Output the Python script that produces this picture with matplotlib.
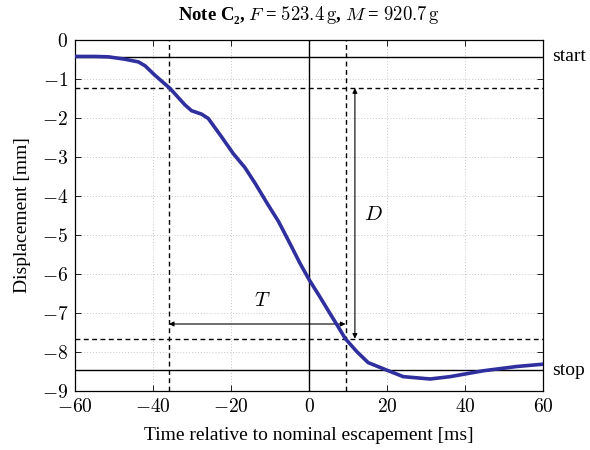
import numpy as np
import matplotlib
matplotlib.use("Agg")
import matplotlib.pyplot as plt
from matplotlib.ticker import FuncFormatter, MultipleLocator
from matplotlib.transforms import blended_transform_factory

plt.rcParams["font.family"] = ["Liberation Serif", "DejaVu Serif"]
plt.rcParams["mathtext.fontset"] = "cm"
plt.rcParams["font.size"] = 12

# displacement trace
t_ms = [-60, -55.0, -51.5, -47.3, -43.8, -42.1, -39.6, -35.7, -31.9, -30.2,
        -27.6, -25.9, -22.5, -19.5, -16.5, -13.9, -10.9, -7.9, -5.4, -2.4,
        0, 2.7, 5.3, 7.4, 9.2, 12.2, 15.1, 19.8, 24.1, 31, 36.1, 44.6, 53.2, 60]
disp_mm = [-0.43, -0.43, -0.44, -0.50, -0.57, -0.67, -0.91, -1.25, -1.67, -1.82,
           -1.91, -2.02, -2.49, -2.92, -3.28, -3.68, -4.18, -4.66, -5.14, -5.73,
           -6.16, -6.59, -7.02, -7.36, -7.66, -8.00, -8.28, -8.47, -8.64, -8.70,
           -8.64, -8.49, -8.38, -8.32]

start_level = -0.44
stop_level = -8.47
t_first = -36.0   # crossing of 10 % level
t_second = 9.3    # crossing of 90 % level

lvl_hi = start_level + 0.1 * (stop_level - start_level)
lvl_lo = start_level + 0.9 * (stop_level - start_level)

fig = plt.figure(figsize=(5.9, 4.5), dpi=100)
ax = fig.add_axes([0.1276, 0.1318, 0.9208 - 0.1276, 0.9118 - 0.1318])

ax.set_xlim(-60, 60)
ax.set_ylim(-9, 0)
ax.xaxis.set_major_locator(MultipleLocator(20))
ax.yaxis.set_major_locator(MultipleLocator(1))
fmt = FuncFormatter(lambda v, p: r"$%g$" % v)
ax.xaxis.set_major_formatter(fmt)
ax.yaxis.set_major_formatter(fmt)
ax.tick_params(direction="in", top=True, right=True, length=4, width=0.6,
               labelsize=14, pad=5)
ax.grid(True, linestyle=(0, (1, 2)), color="#c8c8c8", linewidth=0.7)
for s in ax.spines.values():
    s.set_linewidth(0.9)

# reference lines
ax.axhline(start_level, color="black", lw=1.0)
ax.axhline(stop_level, color="black", lw=1.0)
ax.axvline(0, color="black", lw=1.0)
ax.axhline(lvl_hi, color="black", lw=1.0, ls=(0, (3.5, 2.5)))
ax.axhline(lvl_lo, color="black", lw=1.0, ls=(0, (3.5, 2.5)))
ax.axvline(t_first, color="black", lw=1.0, ls=(0, (3.5, 2.5)))
ax.axvline(t_second, color="black", lw=1.0, ls=(0, (3.5, 2.5)))

ax.plot(t_ms, disp_mm, color="#2f2f9e", lw=2.6, solid_capstyle="round",
        solid_joinstyle="round", zorder=5)

# T and D arrows
y_T = -7.29
ax.annotate("", xy=(t_second, y_T), xytext=(t_first, y_T),
            arrowprops=dict(arrowstyle="<|-|>", lw=0.8, color="black",
                            mutation_scale=7, shrinkA=0, shrinkB=0))
ax.text(-12.1, -6.72, r"$T$", fontsize=15, ha="center", va="center")
x_D = 11.7
ax.annotate("", xy=(x_D, lvl_lo), xytext=(x_D, lvl_hi),
            arrowprops=dict(arrowstyle="<|-|>", lw=0.8, color="black",
                            mutation_scale=7, shrinkA=0, shrinkB=0))
ax.text(16.5, -4.5, r"$D$", fontsize=15, ha="center", va="center")

tr = blended_transform_factory(ax.transAxes, ax.transData)
ax.text(1.018, start_level, "start", transform=tr, ha="left", va="center", fontsize=14)
ax.text(1.018, stop_level, "stop", transform=tr, ha="left", va="center", fontsize=14)

ax.set_xlabel("Time relative to nominal escapement [ms]", fontsize=14, labelpad=8)
ax.set_ylabel("Displacement [mm]", fontsize=14, labelpad=8)
ax.set_title("Note C\u2082, $F$ = $523.4\\,\\mathrm{g}$, $M$ = $920.7\\,\\mathrm{g}$",
             fontweight="bold", fontsize=13.5, pad=14)

fig.savefig("out.png", dpi=100)
